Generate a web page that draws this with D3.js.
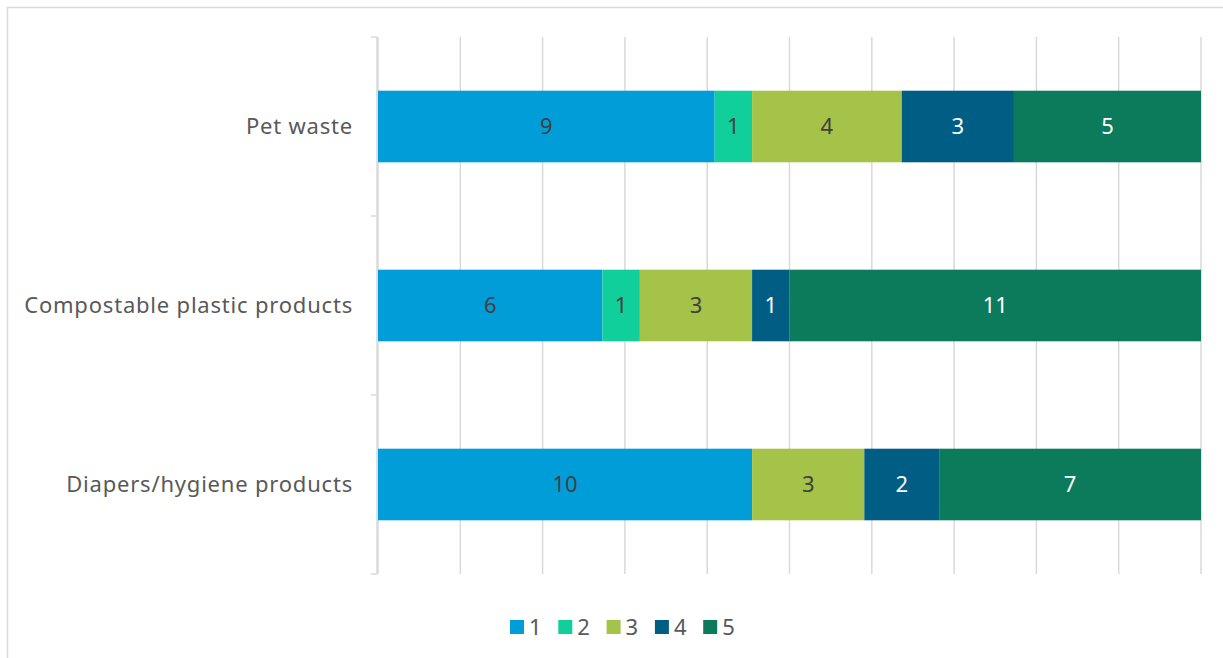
<!DOCTYPE html>
<html><head><meta charset="utf-8">
<script src="https://cdn.jsdelivr.net/npm/d3@7"></script>
<style>html,body{margin:0;padding:0;background:#fff;}svg{display:block;}</style>
</head><body>
<svg id="c" width="1223" height="658"></svg>
<script>
const categories = ["Pet waste", "Compostable plastic products", "Diapers/hygiene products"];
const seriesNames = ["1", "2", "3", "4", "5"];
const s1 = [9, 6, 10];
const s2 = [1, 1, 0];
const s3 = [4, 3, 3];
const s4 = [3, 1, 2];
const s5 = [5, 11, 7];
const colors = ["#009DD9", "#10CF9B", "#A5C249", "#005E84", "#0C7B5B"];
const labelColors = ["#404040", "#404040", "#404040", "#ffffff", "#ffffff"];
const xTicks = [0, 0.1, 0.2, 0.3, 0.4, 0.5, 0.6, 0.7, 0.8, 0.9, 1];

const seriesVals = [s1, s2, s3, s4, s5];
const rows = categories.map((c, i) => {
  const o = {cat: c};
  seriesNames.forEach((s, j) => o[s] = seriesVals[j][i]);
  return o;
});
const stack = d3.stack().keys(seriesNames).offset(d3.stackOffsetExpand)(rows);

const svg = d3.select("#c");
const font = "'Noto Sans', sans-serif";
svg.append("rect").attr("x", 7.5).attr("y", 7.5).attr("width", 1300).attr("height", 800)
  .attr("fill", "#fff").attr("stroke", "#d9d9d9").attr("stroke-width", 1.5);

const x = d3.scaleLinear().domain([0, 1]).range([378, 1201]);
const y = d3.scaleBand().domain(categories).range([37, 574]).paddingInner(0.6).paddingOuter(0.3);

// gridlines
svg.append("g").selectAll("line").data(xTicks).join("line")
  .attr("x1", d => x(d)).attr("x2", d => x(d)).attr("y1", 37).attr("y2", 574)
  .attr("stroke", "#d9d9d9").attr("stroke-width", 1.5);

// y axis line and ticks at category boundaries
const step = (574 - 37) / categories.length;
svg.append("line").attr("x1", 377).attr("x2", 377).attr("y1", 37).attr("y2", 574)
  .attr("stroke", "#d9d9d9").attr("stroke-width", 1.5);
svg.append("g").selectAll("line").data(d3.range(categories.length + 1)).join("line")
  .attr("x1", 371).attr("x2", 377).attr("y1", d => 37 + d * step).attr("y2", d => 37 + d * step)
  .attr("stroke", "#d9d9d9").attr("stroke-width", 1.5);

// category labels
svg.append("g").selectAll("text").data(categories).join("text")
  .attr("x", 353).attr("y", d => y(d) + y.bandwidth() / 2).attr("dy", "0.35em")
  .attr("text-anchor", "end").attr("font-family", font).attr("font-size", 22)
  .attr("letter-spacing", "0.8px")
  .attr("fill", "#595959").text(d => d);

// bars
stack.forEach((ser, j) => {
  const g = svg.append("g");
  g.selectAll("rect").data(ser).join("rect")
    .attr("x", d => x(d[0])).attr("width", d => x(d[1]) - x(d[0]))
    .attr("y", d => y(d.data.cat)).attr("height", y.bandwidth())
    .attr("fill", colors[j]);
  g.selectAll("text").data(ser.filter(d => d.data[seriesNames[j]] > 0)).join("text")
    .attr("x", d => (x(d[0]) + x(d[1])) / 2).attr("y", d => y(d.data.cat) + y.bandwidth() / 2)
    .attr("dy", "0.35em").attr("text-anchor", "middle").attr("font-family", font)
    .attr("font-size", 22).attr("fill", labelColors[j]).text(d => d.data[seriesNames[j]]);
});

// legend
const leg = svg.append("g");
seriesNames.forEach((s, j) => {
  const lx = 510 + j * 48.3;
  leg.append("rect").attr("x", lx).attr("y", 620).attr("width", 14).attr("height", 14).attr("fill", colors[j]);
  leg.append("text").attr("x", lx + 19).attr("y", 627).attr("dy", "0.35em")
    .attr("font-family", font).attr("font-size", 22).attr("fill", "#595959").text(s);
});
</script>
</body></html>
